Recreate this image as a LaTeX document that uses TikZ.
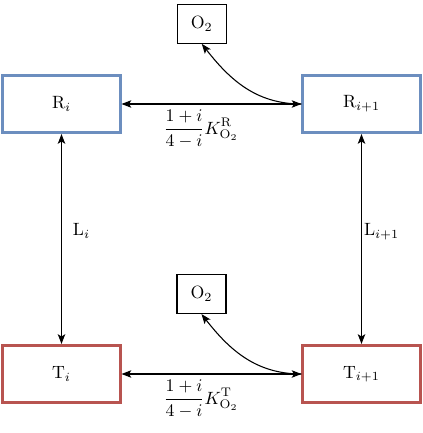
\documentclass[tikz,border=0pt]{standalone}
\usetikzlibrary{arrows.meta}
\definecolor{rblue}{HTML}{6C8EBF}
\definecolor{tred}{HTML}{B85450}
\begin{document}
\begin{tikzpicture}[x=0.563pt,y=-0.563pt,
  statebox/.style={draw, line width=1.7pt, minimum width=65.9pt, minimum height=32.1pt, inner sep=0pt},
  rbox/.style={statebox, draw=rblue},
  tbox/.style={statebox, draw=tred},
  obox/.style={draw, line width=0.6pt, minimum width=27.6pt, minimum height=22pt, inner sep=0pt},
  conn/.style={line width=0.6pt, {Stealth[length=5.5pt,width=4.2pt,inset=1.3pt]}-{Stealth[length=5.5pt,width=4.2pt,inset=1.3pt]}},
  curv/.style={line width=0.6pt, {Stealth[length=5.5pt,width=4.2pt,inset=1.3pt]}-},
  lab/.style={inner sep=0pt, anchor=base}]
\useasboundingbox (0,0) rectangle (423,433);
\node[rbox] (Ri) at (61.5,104) {$\mathrm{R}_i$};
\node[rbox] (Rj) at (361.5,104) {$\mathrm{R}_{i+1}$};
\node[tbox] (Ti) at (61.5,374) {$\mathrm{T}_i$};
\node[tbox] (Tj) at (361.5,374) {$\mathrm{T}_{i+1}$};
\node[obox] (Ot) at (201.8,23.8) {$\mathrm{O}_2$};
\node[obox] (Ob) at (201.5,294) {$\mathrm{O}_2$};
\draw[conn] (Ri) -- (Rj);
\draw[conn] (Ti) -- (Tj);
\draw[conn] (Ri) -- (Ti);
\draw[conn] (Rj) -- (Tj);
\draw[curv] (Ot.south) to[out=-52,in=180] (Rj.west);
\draw[curv] (Ob.south) to[out=-52,in=180] (Tj.west);
\node[lab] (kr) at (201,134) {$\displaystyle\frac{1+i}{4-i}K_{\mathrm{O}_2}^{\mathrm{R}}$};
\node[lab] (kt) at (201,404) {$\displaystyle\frac{1+i}{4-i}K_{\mathrm{O}_2}^{\mathrm{T}}$};
\node[lab] (li) at (81.5,235.5) {$\mathrm{L}_i$};
\node[lab] (lj) at (381.5,235.5) {$\mathrm{L}_{i+1}$};
\end{tikzpicture}
\end{document}
